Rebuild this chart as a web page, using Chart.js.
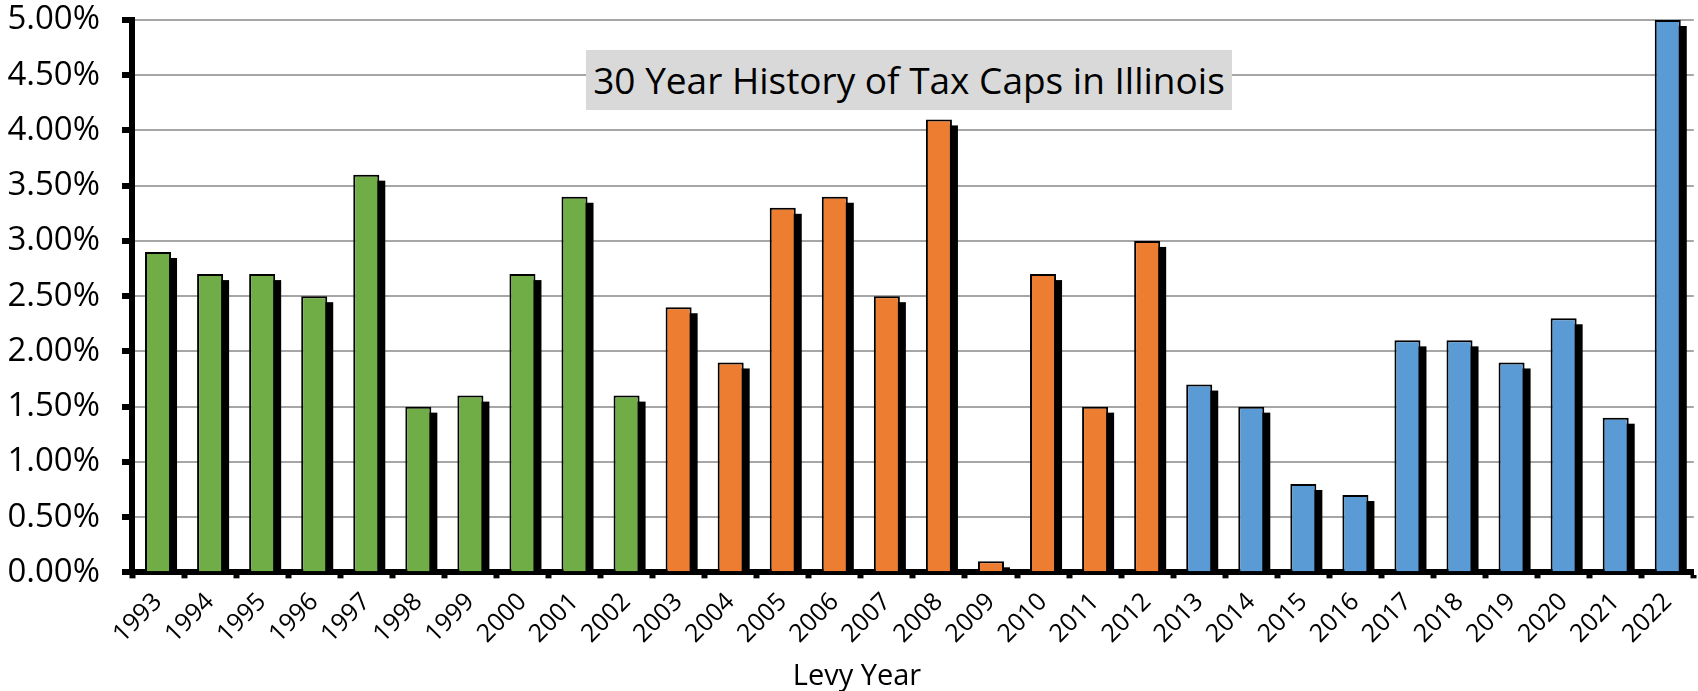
<!DOCTYPE html>
<html>
<head>
<meta charset="utf-8">
<script src="https://cdn.jsdelivr.net/npm/chart.js@4/dist/chart.umd.min.js"></script>
<style>
    body { margin: 0; background: #fff; }
    #wrap { position: relative; width: 1698px; height: 691px; }
    #title {
        position: absolute; left: 586px; top: 50px; width: 646px; height: 60px;
        background: #d9d9d9; font-family: 'Open Sans', sans-serif; font-size: 37px;
        line-height: 60px; text-align: center; color: #000; white-space: nowrap;
    }
    #xTitle {
        position: absolute; left: 757px; top: 656px; width: 200px; height: 35px;
        font-family: 'Open Sans', sans-serif; font-size: 29px; line-height: 35px;
        text-align: center; color: #000; white-space: nowrap;
    }
</style>
</head>
<body>
<div id="wrap">
    <canvas id="capsChart"></canvas>
    <div id="title">30 Year History of Tax Caps in Illinois</div>
    <div id="xTitle">Levy Year</div>
</div>
<script>
// levy years and cap percentages
const years = ['1993', '1994', '1995', '1996', '1997', '1998', '1999', '2000', '2001', '2002',
    '2003', '2004', '2005', '2006', '2007', '2008', '2009', '2010', '2011', '2012',
    '2013', '2014', '2015', '2016', '2017', '2018', '2019', '2020', '2021', '2022'];
const capValues = [2.9, 2.7, 2.7, 2.5, 3.6, 1.5, 1.6, 2.7, 3.4, 1.6,
    2.4, 1.9, 3.3, 3.4, 2.5, 4.1, 0.1, 2.7, 1.5, 3.0,
    1.7, 1.5, 0.8, 0.7, 2.1, 2.1, 1.9, 2.3, 1.4, 5.0];
const decadeColors = ['#70AD47', '#ED7D31', '#5B9BD5'];
const yTicks = [0, 0.5, 1, 1.5, 2, 2.5, 3, 3.5, 4, 4.5, 5];

const barColors = years.map((y, i) => decadeColors[Math.floor(i / 10)]);

// black drop shadow behind each bar, taken from the bar elements
const shadowPlugin = {
    id: 'barShadow',
    beforeDatasetsDraw(chart) {
        const ctx = chart.ctx;
        const area = chart.chartArea;
        ctx.save();
        ctx.beginPath();
        ctx.rect(area.left, area.top, area.right - area.left, area.bottom - area.top);
        ctx.clip();
        ctx.fillStyle = '#000';
        chart.getDatasetMeta(0).data.forEach(bar => {
            const p = bar.getProps(['x', 'y', 'base', 'width'], true);
            ctx.fillRect(p.x - p.width / 2 + 6, p.y + 6, p.width, p.base - p.y);
        });
        ctx.restore();
    }
};

const ctx = document.getElementById('capsChart').getContext('2d');
new Chart(ctx, {
    type: 'bar',
    data: {
        labels: years,
        datasets: [{
            data: capValues,
            backgroundColor: barColors,
            borderColor: '#000',
            borderWidth: 2,
            categoryPercentage: 1,
            barPercentage: 0.5
        }]
    },
    options: {
        responsive: true,
        maintainAspectRatio: false,
        animation: false,
        layout: { padding: { top: 0, right: 2, left: 0, bottom: 33 } },
        plugins: {
            legend: { display: false },
            tooltip: { enabled: false }
        },
        scales: {
            x: {
                z: 1,
                grid: {
                    drawOnChartArea: false,
                    tickLength: 6,
                    tickWidth: 6,
                    tickColor: '#000'
                },
                border: { color: '#000', width: 6 },
                ticks: {
                    minRotation: 45,
                    maxRotation: 45,
                    padding: 9,
                    color: '#000',
                    font: { family: 'Open Sans', size: 25 }
                }
            },
            y: {
                min: 0,
                max: 5,
                afterFit: function (scale) {
                    scale.width = 132;
                    scale.paddingTop = 20;
                    scale.paddingBottom = 0;
                },
                ticks: {
                    stepSize: 0.25,
                    padding: 22,
                    color: '#000',
                    font: { family: 'Open Sans', size: 33 },
                    callback: function (value) {
                        return yTicks.includes(value) ? value.toFixed(2) + '%' : '';
                    }
                },
                grid: {
                    lineWidth: 2,
                    color: c => (c.tick && yTicks.includes(c.tick.value)) ? '#a6a6a6' : '#d4d4d4',
                    tickLength: 10,
                    tickWidth: 6,
                    tickColor: c => (c.tick && yTicks.includes(c.tick.value)) ? '#000' : 'rgba(0,0,0,0)'
                },
                border: { color: '#000', width: 6 }
            }
        }
    },
    plugins: [shadowPlugin]
});
</script>
</body>
</html>
